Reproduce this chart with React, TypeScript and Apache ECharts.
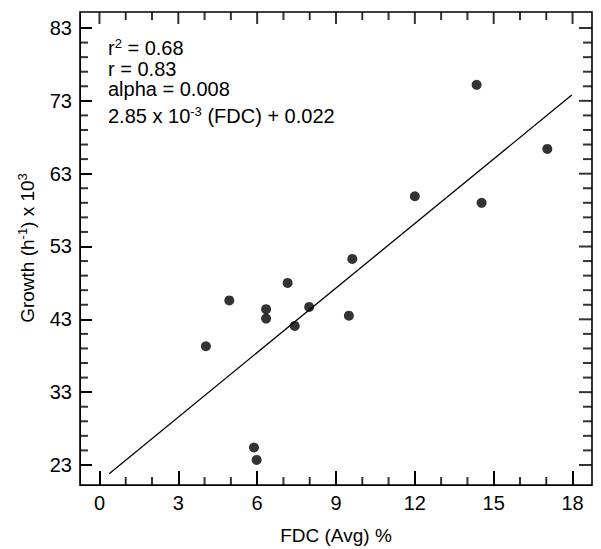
import React, { useEffect, useRef } from "react";
import * as echarts from "echarts";

const FONT = "'Liberation Sans', Arial, Helvetica, sans-serif";

// Data
const fdc = [4.05, 4.94, 6.34, 6.34, 7.16, 7.98, 7.43, 9.49, 9.62, 5.88, 5.98, 12.0, 14.35, 17.04, 14.54];
const growth = [39.3, 45.6, 44.4, 43.1, 48.0, 44.7, 42.1, 43.5, 51.3, 25.4, 23.7, 59.9, 75.2, 66.4, 59.0];
const fitX = [0.37, 17.97];
const fitY = [21.8, 73.8];

const xMajor = [0, 3, 6, 9, 12, 15, 18];
const xMinor = [1, 2, 4, 5, 7, 8, 10, 11, 13, 14, 16, 17];
const yMajor = [23, 33, 43, 53, 63, 73, 83];
const yMinor = [25, 27, 29, 31, 35, 37, 39, 41, 45, 47, 49, 51, 55, 57, 59, 61, 65, 67, 69, 71, 75, 77, 79, 81];

const X_MIN = -0.74;
const X_MAX = 18.74;
const Y_MIN = 20.25;
const Y_MAX = 85.2;

const xTitle = "FDC (Avg) %";
const yTitle = "{a|Growth (h}{s|-1}{a|) x 10}{s|3}";

const annotations = [
  "{a|r}{s|2}{a| = 0.68}",
  "{a|r = 0.83}",
  "{a|alpha = 0.008}",
  "{a|2.85 x 10}{s|-3}{a| (FDC) + 0.022}",
];
const annotationTop = [37, 59, 79, 105];

const TW = 2;
const INK = "#000";

const richStyle = {
  a: { fontSize: 20, color: "#000", fill: "#000", fontFamily: FONT, fontWeight: "normal" },
  s: { fontSize: 13, color: "#000", fill: "#000", fontFamily: FONT, fontWeight: "normal", padding: [0, 0, 9, 0] },
};

function tickSeries(data: number[][], size: number[], offset: number[]) {
  return {
    type: "scatter",
    clip: false,
    symbol: "rect",
    symbolSize: size,
    symbolOffset: offset,
    itemStyle: { color: INK },
    data,
  };
}

export default function App() {
  const ref = useRef<HTMLDivElement>(null);
  useEffect(() => {
    if (!ref.current) return;
    const chart = echarts.init(ref.current, null, { renderer: "svg" });
    chart.setOption({
      animation: false,
      backgroundColor: "#fff",
      title: annotations.map((t, i) => ({
        text: t,
        left: 108,
        top: annotationTop[i],
        padding: 0,
        textStyle: { rich: richStyle },
      })),
      grid: {
        left: 80, right: 9, top: 12, bottom: 64, containLabel: false,
        show: true, borderColor: "#000", borderWidth: 1.6, backgroundColor: "transparent",
      },
      xAxis: {
        type: "value", min: X_MIN, max: X_MAX, position: "bottom",
        axisLine: { show: true, onZero: false, lineStyle: { color: "#000" } },
        axisTick: { show: true, inside: true, length: 14, customValues: xMajor, lineStyle: { color: INK, width: TW } },
        axisLabel: { customValues: xMajor, margin: 8, fontSize: 20, color: "#000", fontFamily: FONT },
        splitLine: { show: false },
      },
      yAxis: {
        type: "value", min: Y_MIN, max: Y_MAX, position: "left",
        axisLine: { show: true, onZero: false, lineStyle: { color: "#000" } },
        axisTick: { show: true, inside: true, length: 12, customValues: yMajor, lineStyle: { color: INK, width: TW } },
        axisLabel: { customValues: yMajor, margin: 8, fontSize: 20, color: "#000", fontFamily: FONT },
        splitLine: { show: false },
      },
      graphic: [
        {
          type: "text",
          x: 336,
          y: 535,
          style: {
            text: xTitle,
            align: "center",
            verticalAlign: "middle",
            fontSize: 19,
            fontFamily: FONT,
            fill: "#000",
          },
        },
        {
          type: "text",
          x: 27,
          y: 248,
          rotation: Math.PI / 2,
          style: {
            text: yTitle,
            align: "center",
            verticalAlign: "middle",
            fill: "#000",
            rich: {
              a: { fontSize: 19, fill: "#000", fontFamily: FONT },
              s: { fontSize: 13, fill: "#000", fontFamily: FONT, padding: [0, 0, 9, 0] },
            },
          },
        },
      ],
      series: [
        tickSeries(xMinor.map((v) => [v, Y_MIN]), [TW, 8], [0, -4]),
        tickSeries(xMajor.map((v) => [v, Y_MAX]), [TW, 12], [0, 6]),
        tickSeries(xMinor.map((v) => [v, Y_MAX]), [TW, 8], [0, 4]),
        tickSeries(yMinor.map((v) => [X_MIN, v]), [8, TW], [4, 0]),
        tickSeries(yMajor.map((v) => [X_MAX, v]), [13, TW], [-6.5, 0]),
        tickSeries(yMinor.map((v) => [X_MAX, v]), [9, TW], [-4.5, 0]),
        {
          type: "line",
          data: fitX.map((x, i) => [x, fitY[i]]),
          symbol: "none",
          lineStyle: { color: "#000", width: 1.3 },
        },
        {
          type: "scatter",
          data: fdc.map((x, i) => [x, growth[i]]),
          symbol: "circle",
          symbolSize: 10,
          itemStyle: { color: "#000" },
        },
      ],
    });
    return () => chart.dispose();
  }, []);
  return (
    <div
      ref={ref}
      style={{ position: "fixed", left: 0, top: 0, width: 601, height: 549, background: "#fff" }}
    />
  );
}
